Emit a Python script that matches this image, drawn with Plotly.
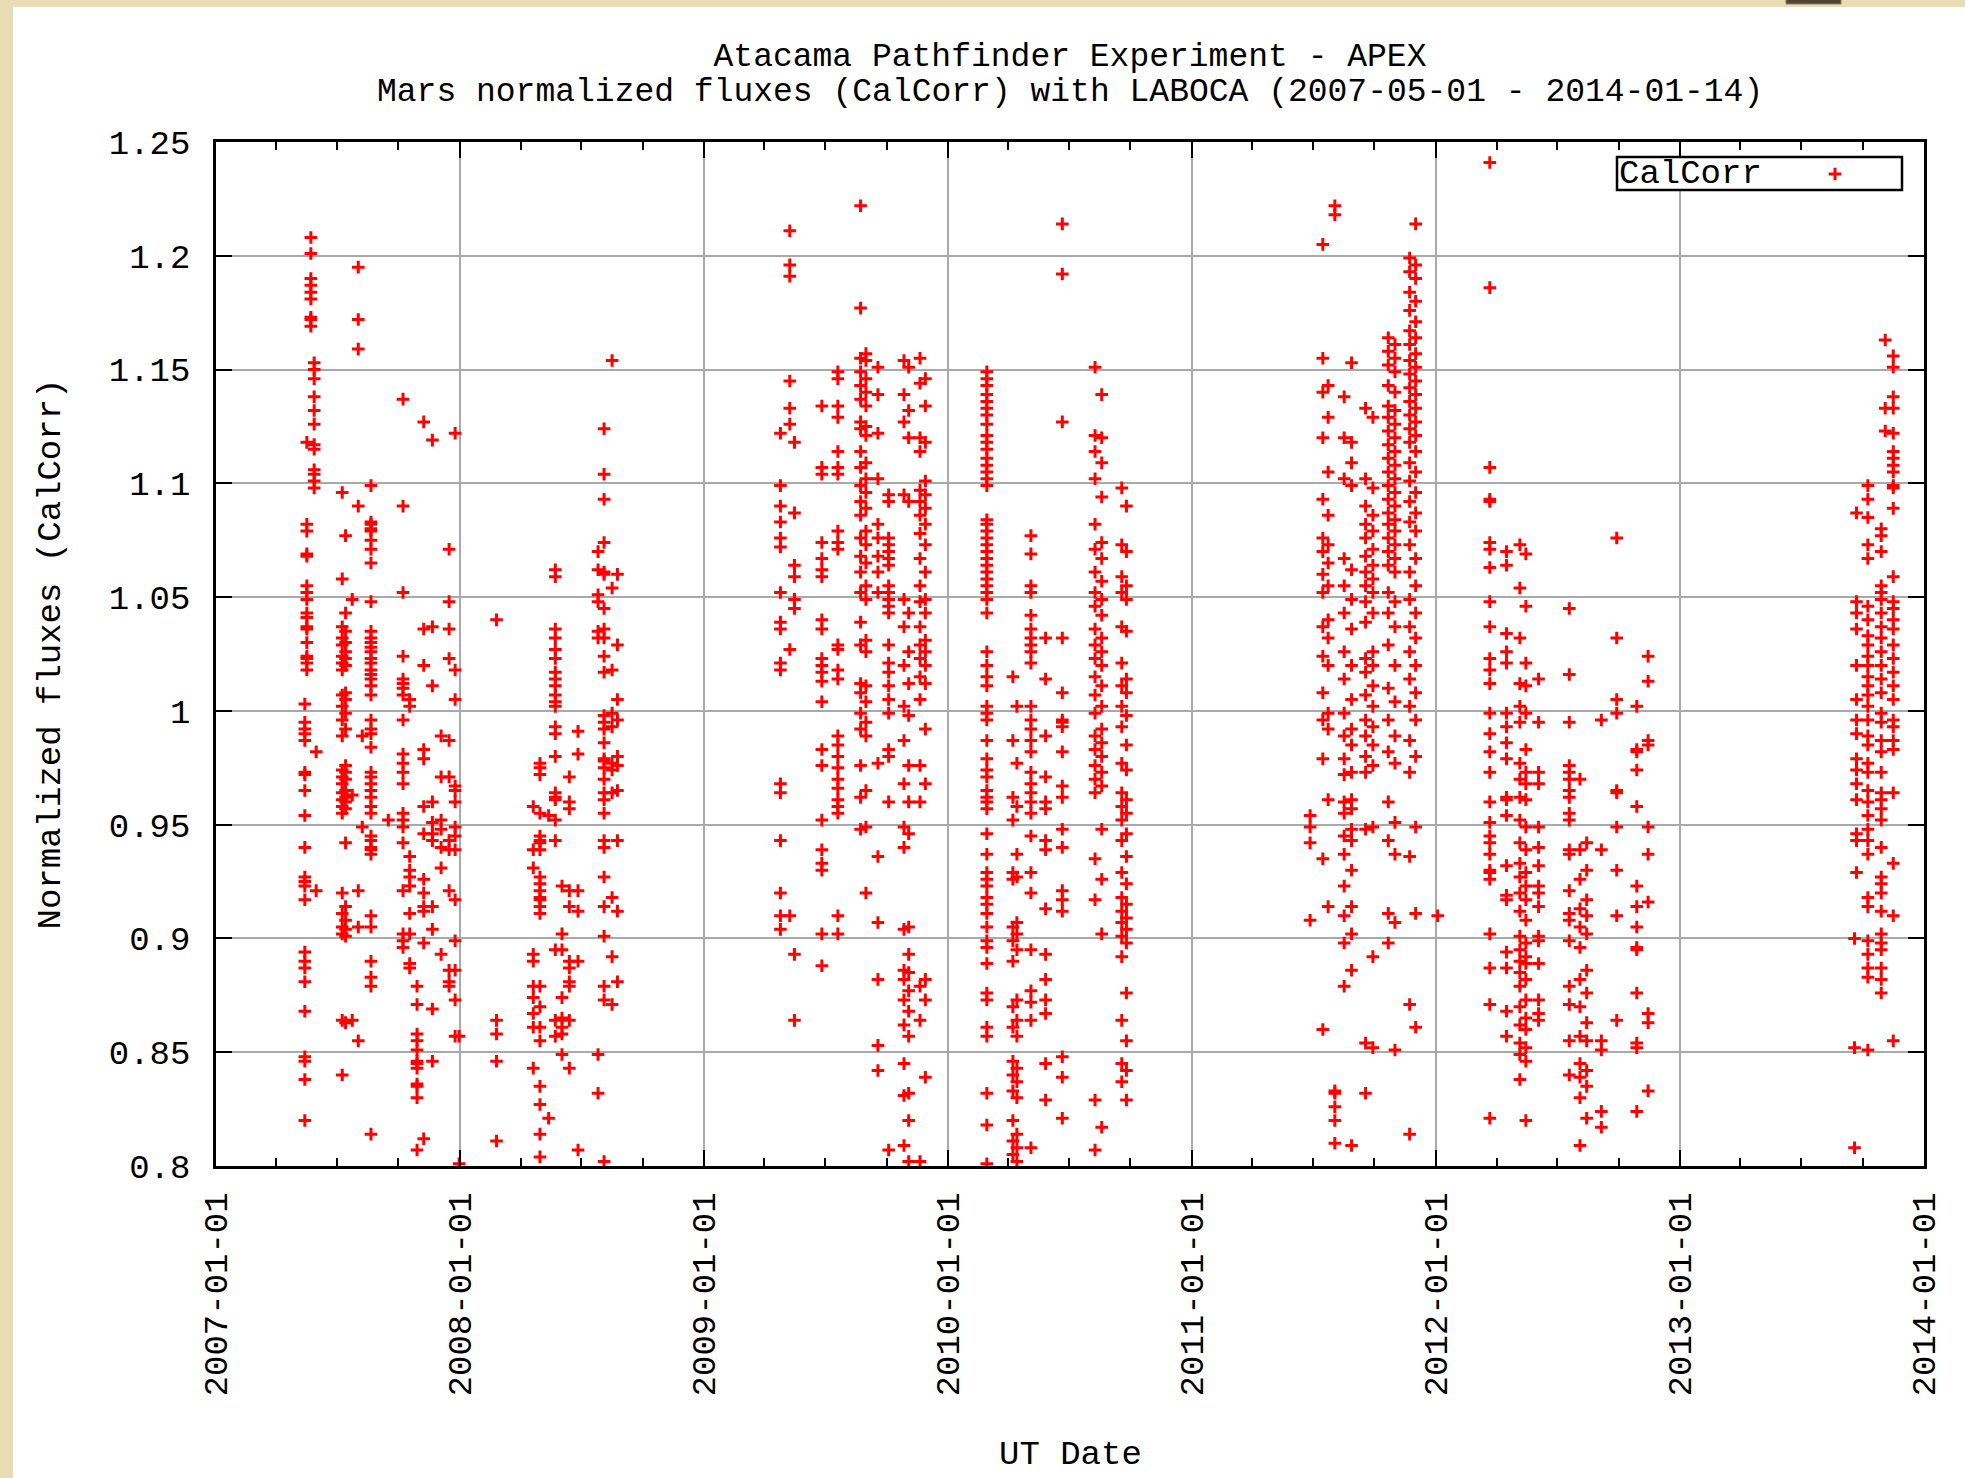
import plotly.graph_objects as go

# Mars calibration scans with LABOCA: each observing season is stored as a list of
# UT dates and, for every date, the normalized fluxes (CalCorr) measured on it.
dates_2007 = ["2007-05-23", "2007-05-28", "2007-05-17", "2007-05-14", "2007-05-31",
              "2007-07-09", "2007-07-14", "2007-07-24", "2007-08-02", "2007-08-08",
              "2007-08-21", "2007-09-16", "2007-10-08", "2007-10-18", "2007-10-29",
              "2007-11-08", "2007-11-21", "2007-12-04", "2007-12-16", "2007-12-25",
              "2007-12-31"]
flux_2007 = [
    [1.208, 1.201, 1.190, 1.187, 1.184, 1.181, 1.173, 1.172, 1.169],
    [1.153, 1.150, 1.146, 1.138, 1.132, 1.126, 1.117, 1.115, 1.106, 1.104, 1.101, 1.098],
    [1.118, 1.082, 1.079, 1.069, 1.068, 1.055, 1.052, 1.049, 1.043, 1.041, 1.037, 1.036,
     1.030, 1.024, 1.023, 1.021, 1.018],
    [1.003, 0.995, 0.992, 0.990, 0.987, 0.973, 0.972, 0.965, 0.954, 0.940, 0.927, 0.925,
     0.923, 0.917, 0.894, 0.890, 0.887, 0.881, 0.868, 0.848, 0.846, 0.838, 0.820],
    [0.982, 0.921],
    [1.096, 1.058, 1.037, 1.032, 1.029, 1.024, 1.021, 1.018, 1.007, 1.002, 0.996, 0.989,
     0.974, 0.971, 0.968, 0.964, 0.961, 0.958, 0.955, 0.920, 0.911, 0.905, 0.902, 0.864, 0.840],
    [1.077, 1.043, 1.035, 1.030, 1.026, 1.023, 1.020, 1.008, 1.005, 0.999, 0.992, 0.976,
     0.973, 0.970, 0.965, 0.962, 0.960, 0.957, 0.942, 0.914, 0.908, 0.904, 0.901, 0.863],
    [1.049, 0.864, 0.963],
    [1.195, 1.172, 1.159, 1.090, 0.921, 0.905, 0.855],
    [0.989, 0.949],
    [1.099, 1.083, 1.082, 1.080, 1.079, 1.075, 1.071, 1.065, 1.048, 1.035, 1.032, 1.030,
     1.028, 1.026, 1.023, 1.021, 1.018, 1.016, 1.014, 1.011, 1.007, 0.996, 0.992, 0.990,
     0.984, 0.973, 0.971, 0.968, 0.965, 0.962, 0.958, 0.955, 0.945, 0.943, 0.940, 0.939,
     0.937, 0.910, 0.905, 0.890, 0.883, 0.879, 0.814],
    [0.952],
    [1.137, 1.090, 1.052, 1.024, 1.014, 1.012, 1.010, 1.007, 0.996, 0.981, 0.977, 0.973,
     0.968, 0.955, 0.952, 0.949, 0.942, 0.921, 0.902, 0.899, 0.896],
    [1.005, 1.002, 0.936, 0.930, 0.927, 0.923, 0.911, 0.902, 0.889, 0.887],
    [0.879, 0.871, 0.858, 0.855, 0.851, 0.846, 0.845, 0.843, 0.836, 0.835, 0.830, 0.807],
    [1.127, 1.036, 1.020, 0.983, 0.979, 0.958, 0.946, 0.926, 0.920, 0.914, 0.912, 0.898, 0.812],
    [1.119, 1.037, 1.011, 0.960, 0.951, 0.946, 0.943, 0.914, 0.904, 0.869, 0.846],
    [0.989, 0.971, 0.952, 0.948, 0.940, 0.931, 0.893],
    [1.071, 1.048, 1.036, 1.023, 0.987, 0.971, 0.943, 0.939, 0.921, 0.886, 0.881, 0.879],
    [1.122, 1.018, 1.005, 0.967, 0.965, 0.960, 0.949, 0.945, 0.939, 0.917, 0.899, 0.886,
     0.873, 0.857],
    [0.857, 0.801],
]

dates_2008 = ["2008-02-25", "2008-04-20", "2008-04-30", "2008-05-13", "2008-05-23",
              "2008-06-02", "2008-06-13", "2008-06-26", "2008-07-26", "2008-08-04",
              "2008-08-16", "2008-08-24"]
flux_2008 = [
    [1.040, 0.864, 0.858, 0.846, 0.811],
    [0.958, 0.939, 0.931, 0.893, 0.890, 0.879, 0.874, 0.867, 0.861, 0.843],
    [0.977, 0.975, 0.972, 0.955, 0.945, 0.943, 0.942, 0.939, 0.927, 0.924, 0.921, 0.918,
     0.917, 0.914, 0.911, 0.879, 0.870, 0.861, 0.855, 0.835, 0.827, 0.814, 0.804],
    [0.954, 0.821],
    [1.062, 1.059, 1.036, 1.032, 1.027, 1.023, 1.017, 1.014, 1.011, 1.007, 1.004, 1.002,
     0.993, 0.990, 0.980, 0.964, 0.962, 0.961, 0.952, 0.943, 0.895, 0.864, 0.857],
    [0.923, 0.902, 0.895, 0.874, 0.865, 0.861, 0.858, 0.849],
    [0.971, 0.960, 0.957, 0.921, 0.914, 0.890, 0.887, 0.881, 0.879, 0.864, 0.843],
    [0.991, 0.981, 0.921, 0.912, 0.890, 0.807],
    [1.070, 1.062, 1.051, 1.048, 1.035, 1.032, 0.849, 0.832],
    [1.124, 1.104, 1.093, 1.074, 1.061, 1.060, 1.045, 1.036, 1.032, 1.024, 1.017, 0.998,
     0.995, 0.992, 0.986, 0.979, 0.978, 0.975, 0.970, 0.964, 0.961, 0.955, 0.943, 0.940,
     0.927, 0.914, 0.901, 0.879, 0.873, 0.802],
    [1.154, 1.054, 1.018, 0.999, 0.993, 0.977, 0.974, 0.964, 0.918, 0.892, 0.871],
    [1.060, 1.029, 1.005, 0.996, 0.980, 0.976, 0.965, 0.943, 0.912, 0.881],
]

dates_2009 = ["2009-04-25", "2009-05-09", "2009-05-16", "2009-06-26", "2009-07-20",
              "2009-08-23", "2009-08-31", "2009-09-18", "2009-10-04", "2009-10-27",
              "2009-11-03", "2009-11-20", "2009-11-28"]
flux_2009 = [
    [1.122, 1.099, 1.090, 1.083, 1.076, 1.072, 1.052, 1.039, 1.036, 1.021, 1.018, 0.968,
     0.964, 0.943, 0.920, 0.910, 0.904],
    [1.211, 1.196, 1.191, 1.145, 1.133, 1.126, 1.027, 0.910],
    [1.118, 1.087, 1.064, 1.059, 1.049, 1.045, 0.893, 0.864],
    [1.134, 1.107, 1.104, 1.074, 1.067, 1.062, 1.059, 1.040, 1.036, 1.023, 1.020, 1.017,
     1.013, 1.004, 0.983, 0.976, 0.952, 0.939, 0.933, 0.930, 0.902, 0.888],
    [1.149, 1.146, 1.134, 1.129, 1.114, 1.107, 1.104, 1.079, 1.074, 1.071, 1.029, 1.027,
     1.018, 1.014, 0.989, 0.985, 0.980, 0.975, 0.970, 0.966, 0.961, 0.958, 0.955, 0.910, 0.902],
    [1.222, 1.177, 1.155, 1.149, 1.143, 1.137, 1.127, 1.124, 1.114, 1.107, 1.099, 1.092,
     1.086, 1.076, 1.068, 1.061, 1.052, 1.039, 1.029, 1.012, 1.008, 0.999, 0.992, 0.976,
     0.962, 0.948],
    [1.157, 1.154, 1.146, 1.140, 1.134, 1.125, 1.121, 1.109, 1.102, 1.096, 1.089, 1.079,
     1.073, 1.065, 1.055, 1.049, 1.031, 1.026, 1.011, 1.004, 0.995, 0.989, 0.965, 0.949, 0.920],
    [1.151, 1.139, 1.122, 1.102, 1.082, 1.076, 1.068, 1.061, 1.052, 0.977, 0.936, 0.907,
     0.882, 0.853, 0.842],
    [1.095, 1.092, 1.076, 1.073, 1.070, 1.067, 1.064, 1.055, 1.052, 1.049, 1.046, 1.043,
     1.029, 1.021, 1.017, 1.011, 1.005, 0.999, 0.983, 0.980, 0.960, 0.807],
    [1.154, 1.139, 1.127, 1.095, 1.049, 1.037, 1.020, 1.002, 0.987, 0.968, 0.949, 0.940,
     0.904, 0.886, 0.882, 0.873, 0.862, 0.845, 0.831, 0.809],
    [1.151, 1.132, 1.120, 1.092, 1.043, 1.026, 1.012, 0.998, 0.976, 0.960, 0.946, 0.905,
     0.893, 0.885, 0.877, 0.868, 0.857, 0.832, 0.820, 0.802],
    [1.155, 1.144, 1.120, 1.114, 1.097, 1.092, 1.086, 1.078, 1.067, 1.055, 1.048, 1.037,
     1.029, 1.023, 1.015, 1.005, 0.976, 0.960, 0.879, 0.864, 0.802],
    [1.146, 1.134, 1.118, 1.101, 1.095, 1.089, 1.082, 1.073, 1.061, 1.049, 1.043, 1.031,
     1.026, 1.020, 1.012, 0.992, 0.968, 0.882, 0.873, 0.839],
]

dates_2010 = ["2010-02-28", "2010-04-08", "2010-04-14", "2010-05-05", "2010-05-27",
              "2010-06-21", "2010-08-09", "2010-08-19", "2010-09-18", "2010-09-25"]
flux_2010 = [
    [1.149, 1.146, 1.143, 1.139, 1.136, 1.133, 1.130, 1.126, 1.121, 1.118, 1.115, 1.111,
     1.108, 1.105, 1.102, 1.099, 1.084, 1.082, 1.079, 1.076, 1.073, 1.070, 1.067, 1.064,
     1.061, 1.058, 1.055, 1.052, 1.049, 1.043, 1.026, 1.020, 1.015, 1.011, 1.002, 0.999,
     0.996, 0.987, 0.979, 0.974, 0.971, 0.965, 0.962, 0.960, 0.957, 0.946, 0.937, 0.929,
     0.926, 0.923, 0.918, 0.915, 0.911, 0.905, 0.899, 0.896, 0.889, 0.876, 0.873, 0.861,
     0.857, 0.832, 0.818, 0.801],
    [1.015, 0.987, 0.962, 0.952, 0.929, 0.926, 0.905, 0.899, 0.890, 0.870, 0.861, 0.846,
     0.840, 0.833, 0.820, 0.811, 0.805],
    [1.002, 0.977, 0.958, 0.937, 0.927, 0.907, 0.902, 0.895, 0.873, 0.864, 0.857, 0.843,
     0.837, 0.830, 0.814, 0.808, 0.802],
    [1.077, 1.069, 1.055, 1.052, 1.042, 1.036, 1.032, 1.029, 1.026, 1.021, 1.002, 0.996,
     0.992, 0.987, 0.982, 0.973, 0.968, 0.964, 0.960, 0.955, 0.945, 0.929, 0.920, 0.895,
     0.877, 0.872, 0.864, 0.808],
    [1.032, 1.014, 0.989, 0.971, 0.960, 0.957, 0.943, 0.939, 0.913, 0.893, 0.882, 0.873,
     0.867, 0.845, 0.829],
    [1.214, 1.192, 1.127, 1.032, 1.008, 0.996, 0.995, 0.993, 0.982, 0.967, 0.962, 0.948,
     0.940, 0.921, 0.912, 0.917, 0.848, 0.839, 0.821],
    [1.151, 1.121, 1.114, 1.102, 1.082, 1.071, 1.061, 1.052, 1.046, 1.036, 1.029, 1.023,
     1.015, 1.007, 0.999, 0.989, 0.983, 0.976, 0.970, 0.964, 0.935, 0.917, 0.829, 0.807],
    [1.139, 1.120, 1.109, 1.094, 1.074, 1.067, 1.057, 1.049, 1.042, 1.032, 1.026, 1.020,
     1.011, 1.002, 0.992, 0.986, 0.980, 0.973, 0.967, 0.948, 0.926, 0.902, 0.817],
    [1.098, 1.073, 1.059, 1.052, 1.037, 1.021, 1.011, 1.002, 0.993, 0.977, 0.964, 0.958,
     0.952, 0.943, 0.929, 0.918, 0.912, 0.907, 0.901, 0.892, 0.864, 0.845, 0.837],
    [1.090, 1.070, 1.055, 1.049, 1.035, 1.014, 1.008, 0.998, 0.985, 0.974, 0.961, 0.955,
     0.946, 0.936, 0.924, 0.915, 0.909, 0.904, 0.898, 0.876, 0.855, 0.842, 0.829],
]

dates_2011 = ["2011-06-27", "2011-07-16", "2011-07-24", "2011-08-03", "2011-08-17",
              "2011-08-28", "2011-09-18", "2011-09-29", "2011-10-22", "2011-11-01",
              "2011-11-23", "2011-12-02", "2012-01-04"]
flux_2011 = [
    [0.954, 0.949, 0.942, 0.908],
    [1.205, 1.155, 1.140, 1.120, 1.093, 1.076, 1.070, 1.060, 1.052, 1.037, 1.024, 1.008,
     0.996, 0.979, 0.935, 0.860],
    [1.143, 1.129, 1.105, 1.086, 1.073, 1.065, 1.055, 1.040, 1.032, 1.020, 0.999, 0.992,
     0.961, 0.914],
    [1.222, 1.218, 0.833, 0.832, 0.826, 0.820, 0.810],
    [1.138, 1.120, 1.102, 1.067, 1.055, 1.043, 1.026, 1.014, 0.999, 0.989, 0.979, 0.972,
     0.960, 0.955, 0.945, 0.937, 0.923, 0.910, 0.898, 0.879],
    [1.153, 1.118, 1.109, 1.099, 1.062, 1.049, 1.036, 1.020, 1.005, 0.992, 0.985, 0.973,
     0.961, 0.957, 0.948, 0.943, 0.930, 0.914, 0.902, 0.886, 0.809],
    [1.133, 1.102, 1.090, 1.082, 1.076, 1.068, 1.061, 1.055, 1.048, 1.039, 1.023, 1.017,
     1.007, 0.996, 0.989, 0.980, 0.973, 0.948, 0.854, 0.832],
    [1.129, 1.098, 1.086, 1.079, 1.071, 1.064, 1.058, 1.052, 1.043, 1.026, 1.020, 1.011,
     1.002, 0.993, 0.985, 0.976, 0.949, 0.892, 0.852],
    [1.164, 1.158, 1.152, 1.143, 1.134, 1.129, 1.123, 1.117, 1.111, 1.105, 1.099, 1.093,
     1.087, 1.082, 1.076, 1.070, 1.064, 1.052, 1.043, 1.029, 1.010, 0.996, 0.982, 0.960,
     0.943, 0.911, 0.898],
    [1.161, 1.155, 1.149, 1.140, 1.132, 1.126, 1.120, 1.114, 1.108, 1.102, 1.096, 1.090,
     1.084, 1.079, 1.073, 1.067, 1.061, 1.048, 1.037, 1.020, 1.004, 0.989, 0.977, 0.951,
     0.937, 0.907, 0.851],
    [1.199, 1.193, 1.184, 1.176, 1.167, 1.161, 1.154, 1.148, 1.142, 1.136, 1.130, 1.124,
     1.118, 1.109, 1.101, 1.092, 1.083, 1.073, 1.061, 1.049, 1.037, 1.026, 1.014, 1.002,
     0.987, 0.973, 0.936, 0.871, 0.814],
    [1.214, 1.196, 1.190, 1.180, 1.171, 1.164, 1.157, 1.151, 1.145, 1.139, 1.133, 1.127,
     1.121, 1.114, 1.105, 1.096, 1.087, 1.079, 1.067, 1.055, 1.043, 1.032, 1.020, 1.008,
     0.996, 0.980, 0.949, 0.911, 0.861],
    [0.910],
]

dates_2012 = ["2012-03-22", "2012-04-16", "2012-05-06", "2012-05-15", "2012-06-03",
              "2012-07-19", "2012-08-04", "2012-08-14", "2012-09-05", "2012-09-28",
              "2012-10-28", "2012-11-14"]
flux_2012 = [
    [1.241, 1.186, 1.107, 1.093, 1.092, 1.074, 1.071, 1.063, 1.048, 1.037, 1.023, 1.018,
     1.012, 0.999, 0.990, 0.982, 0.973, 0.960, 0.951, 0.945, 0.942, 0.937, 0.930, 0.929,
     0.926, 0.902, 0.887, 0.871, 0.821],
    [1.070, 1.064, 1.034, 1.026, 1.021, 0.999, 0.993, 0.986, 0.979, 0.962, 0.961, 0.954,
     0.932, 0.919, 0.917, 0.894, 0.887, 0.868, 0.857],
    [1.073, 1.054, 1.032, 1.012, 1.002, 0.995, 0.977, 0.970, 0.962, 0.952, 0.942, 0.933,
     0.927, 0.920, 0.912, 0.901, 0.895, 0.890, 0.885, 0.879, 0.870, 0.862, 0.854, 0.849, 0.838],
    [1.069, 1.046, 1.021, 1.011, 0.999, 0.983, 0.973, 0.968, 0.961, 0.949, 0.939, 0.929,
     0.923, 0.917, 0.908, 0.898, 0.892, 0.889, 0.882, 0.873, 0.865, 0.860, 0.852, 0.846, 0.820],
    [1.014, 0.995, 0.973, 0.968, 0.949, 0.940, 0.932, 0.923, 0.920, 0.914, 0.901, 0.899,
     0.889, 0.873, 0.867, 0.864],
    [1.045, 1.016, 0.995, 0.976, 0.973, 0.970, 0.965, 0.962, 0.955, 0.952, 0.939, 0.937,
     0.921, 0.911, 0.908, 0.899, 0.879, 0.871, 0.855, 0.840],
    [0.970, 0.939, 0.926, 0.913, 0.905, 0.896, 0.882, 0.870, 0.857, 0.845, 0.839, 0.830, 0.809],
    [0.942, 0.930, 0.917, 0.910, 0.902, 0.886, 0.876, 0.863, 0.855, 0.842, 0.835, 0.821],
    [0.996, 0.939, 0.855, 0.851, 0.824, 0.817],
    [1.076, 1.032, 1.005, 0.999, 0.965, 0.964, 0.949, 0.930, 0.910, 0.864],
    [1.002, 0.983, 0.982, 0.974, 0.958, 0.923, 0.914, 0.905, 0.896, 0.895, 0.876, 0.854,
     0.852, 0.824],
    [1.024, 1.013, 0.987, 0.985, 0.949, 0.937, 0.916, 0.867, 0.863, 0.833],
]

dates_2013 = ["2013-09-19", "2013-09-22", "2013-10-09", "2013-10-29", "2013-11-04",
              "2013-11-16"]
flux_2013 = [
    [0.900, 0.852, 0.808],
    [1.087, 1.048, 1.043, 1.036, 1.020, 1.005, 0.996, 0.990, 0.979, 0.974, 0.968, 0.961,
     0.946, 0.943, 0.929],
    [1.099, 1.093, 1.085, 1.073, 1.067, 1.046, 1.040, 1.033, 1.029, 1.024, 1.020, 1.015,
     1.011, 1.007, 1.002, 0.996, 0.989, 0.985, 0.977, 0.973, 0.965, 0.960, 0.954, 0.948,
     0.943, 0.937, 0.918, 0.914, 0.899, 0.893, 0.887, 0.883, 0.851],
    [1.080, 1.077, 1.070, 1.055, 1.052, 1.049, 1.043, 1.037, 1.032, 1.026, 1.020, 1.014,
     1.008, 0.999, 0.995, 0.987, 0.982, 0.973, 0.964, 0.961, 0.957, 0.952, 0.940, 0.927,
     0.924, 0.920, 0.912, 0.902, 0.898, 0.895, 0.887, 0.882, 0.876],
    [1.163, 1.133, 1.123],
    [1.156, 1.151, 1.138, 1.133, 1.122, 1.114, 1.111, 1.108, 1.105, 1.099, 1.098, 1.089,
     1.059, 1.048, 1.045, 1.040, 1.036, 1.029, 1.023, 1.017, 1.011, 1.005, 0.996, 0.993,
     0.987, 0.983, 0.964, 0.933, 0.910, 0.855],
]

# axis ticks and texts
year_ticks = ["2007-01-01", "2008-01-01", "2009-01-01", "2010-01-01", "2011-01-01",
              "2012-01-01", "2013-01-01", "2014-01-01"]
flux_ticks = [0.8, 0.85, 0.9, 0.95, 1.0, 1.05, 1.1, 1.15, 1.2, 1.25]
flux_tick_text = ["0.8", "0.85", "0.9", "0.95", "1", "1.05", "1.1", "1.15", "1.2", "1.25"]
title_lines = ["Atacama Pathfinder Experiment - APEX",
               "Mars normalized fluxes (CalCorr) with LABOCA (2007-05-01 - 2014-01-14)"]
x_title = "UT Date"
y_title = "Normalized fluxes (CalCorr)"
series_name = "CalCorr"

seasons = [(dates_2007, flux_2007), (dates_2008, flux_2008), (dates_2009, flux_2009),
           (dates_2010, flux_2010), (dates_2011, flux_2011), (dates_2012, flux_2012),
           (dates_2013, flux_2013)]
ut_dates, fluxes = [], []
for dates, groups in seasons:
    for day, values in zip(dates, groups):
        ut_dates.extend([day] * len(values))
        fluxes.extend(values)

# page geometry (pixels)
W, H = 1965, 1478
ML, MR, MT, MB = 216, 41, 142, 312
PW, PH = W - ML - MR, H - MT - MB


def px(x):
    """page x pixel -> paper fraction"""
    return (x - ML) / PW


def py(y):
    """page y pixel (from top) -> paper fraction"""
    return (H - MB - y) / PH


FONT = "Liberation Mono"
FS = 34
TFS = 33
RED = "#ff0000"
GRID = "#a9a9a9"

fig = go.Figure()
fig.add_trace(go.Scatter(
    x=ut_dates, y=fluxes, mode="markers", name=" ",
    marker=dict(symbol="cross-thin", size=9, color=RED,
                line=dict(color=RED, width=3)),
    showlegend=True,
))

axis_common = dict(
    showline=True, linecolor="black", linewidth=2.5, mirror="ticks",
    ticks="inside", ticklen=16, tickwidth=2, tickcolor="black",
    showgrid=True, gridcolor=GRID, gridwidth=2, zeroline=False,
    tickfont=dict(family=FONT, size=FS, color="black"),
)

fig.update_xaxes(
    type="date", range=[year_ticks[0], year_ticks[-1]],
    tickvals=year_ticks, ticktext=year_ticks, tickangle=-90,
    ticklabelstandoff=10,
    minor=dict(dtick="M3", tick0="2007-01-01", ticks="inside", ticklen=8,
               tickwidth=2, tickcolor="black", showgrid=False),
    automargin=False,
    **axis_common,
)
fig.update_yaxes(
    range=[flux_ticks[0], flux_ticks[-1]],
    tickvals=flux_ticks, ticktext=flux_tick_text,
    ticklabelstandoff=16,
    title=dict(text=y_title, font=dict(family=FONT, size=FS), standoff=38),
    automargin=False,
    **axis_common,
)

shapes = [
    # white sheet on the beige page
    dict(type="rect", xref="paper", yref="paper", layer="below",
         x0=px(13), x1=px(W + 5), y0=py(H + 5), y1=py(7),
         fillcolor="white", line=dict(width=0)),
    # small dark tab at the top edge
    dict(type="rect", xref="paper", yref="paper", layer="below",
         x0=px(1786), x1=px(1841), y0=py(4), y1=py(-2),
         fillcolor="#4f4631", line=dict(color="#8a7d55", width=1)),
    # key box
    dict(type="rect", xref="paper", yref="paper", layer="above",
         x0=px(1617), x1=px(1902), y0=py(190), y1=py(157),
         fillcolor="white", line=dict(color="black", width=2.5)),
]

annotations = [
    dict(text=title_lines[1], xref="paper", yref="paper", x=0.5, y=py(92),
         xanchor="center", yanchor="middle", showarrow=False,
         font=dict(family=FONT, size=TFS, color="black")),
    # x-axis title, placed low on the sheet below the rotated date labels
    dict(text=x_title, xref="paper", yref="paper", x=0.5, y=py(1455),
         xanchor="center", yanchor="middle", showarrow=False,
         font=dict(family=FONT, size=FS, color="black")),
    dict(text=series_name, xref="paper", yref="paper", x=px(1617), y=py(174),
         xanchor="left", yanchor="middle", showarrow=False,
         font=dict(family=FONT, size=FS, color="black")),
]

fig.update_layout(
    width=W, height=H,
    margin=dict(l=ML, r=MR, t=MT, b=MB, autoexpand=False),
    paper_bgcolor="#e8dcb4",
    plot_bgcolor="white",
    font=dict(family=FONT, size=FS, color="black"),
    title=dict(text=title_lines[0], x=0.5, xref="paper", xanchor="center",
               y=1 - 54 / H, yref="container", yanchor="middle",
               font=dict(family=FONT, size=TFS, color="black")),
    showlegend=True,
    legend=dict(x=px(1815), y=py(174), xanchor="left", yanchor="middle",
                bgcolor="rgba(0,0,0,0)", borderwidth=0, font=dict(size=12),
                itemwidth=30),
    shapes=shapes,
    annotations=annotations,
)

fig.write_html("out.html")
